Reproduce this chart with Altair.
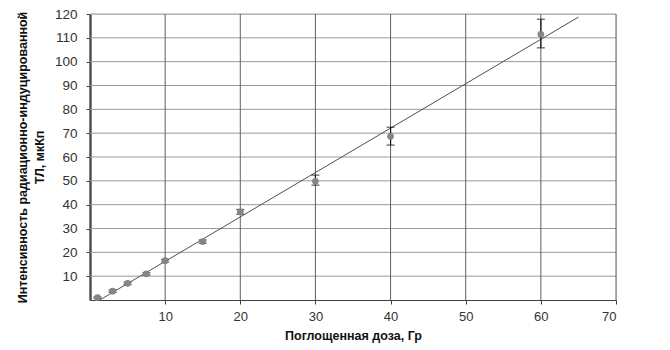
import altair as alt
import pandas as pd

dose = [1, 3, 5, 7.5, 10, 15, 20, 30, 40, 60]
intensity = [1.0, 3.7, 7.0, 11.0, 16.5, 24.5, 37.0, 49.8, 68.7, 111.5]
err_low = [0.7, 3.2, 6.5, 10.5, 16.0, 23.8, 36.0, 48.2, 65.0, 105.8]
err_high = [1.3, 4.2, 7.5, 11.5, 17.0, 25.2, 38.0, 52.4, 72.5, 117.8]

fit_x = [1.3, 65]
fit_y = [0.0, 118.7]

x_ticks = [10, 20, 30, 40, 50, 60, 70]
y_ticks = [10, 20, 30, 40, 50, 60, 70, 80, 90, 100, 110, 120]

df = pd.DataFrame({"dose": dose, "val": intensity, "lo": err_low, "hi": err_high})
fit = pd.DataFrame({"dose": fit_x, "val": fit_y})
ygrid = pd.DataFrame({"v": y_ticks})
xgrid = pd.DataFrame({"v": x_ticks})

FONT = "Liberation Sans"
xs = alt.Scale(domain=[0, 70], nice=False)
ys = alt.Scale(domain=[0, 120], nice=False)

axes = alt.Chart(df).mark_point(opacity=0).encode(
    x=alt.X("dose:Q", scale=xs,
            axis=alt.Axis(values=x_ticks, tickCount=20, title="Поглощенная доза, Гр", grid=False,
                          domainColor="#404040", tickColor="#404040", tickSize=4,
                          labelFont=FONT, labelFontSize=13, labelColor="#333",
                          labelOverlap=False,
                          labelPadding=6, titleFont=FONT, titleFontSize=12.5,
                          titleFontWeight="bold", titleColor="#111", titlePadding=6)),
    y=alt.Y("val:Q", scale=ys,
            axis=alt.Axis(values=y_ticks, tickCount=20,
                          title=["Интенсивность радиационно-индуцированной", "ТЛ, мкКп"],
                          grid=False, domainColor="#505050", domainWidth=2.5,
                          tickColor="#404040", tickSize=4, labelOverlap=False,
                          labelFont=FONT, labelFontSize=13.5, labelColor="#333",
                          labelPadding=9, titleFont=FONT,
                          titleFontSize=12.5, titleFontWeight="bold", titleColor="#111",
                          titleLineHeight=17, titlePadding=8)),
)

hgrid = alt.Chart(ygrid).mark_rule(color="#9a9a9a", strokeWidth=1).encode(
    y=alt.Y("v:Q", scale=ys))
vgrid = alt.Chart(xgrid).mark_rule(color="#606060", strokeWidth=1).encode(
    x=alt.X("v:Q", scale=xs))

line = alt.Chart(fit).mark_line(color="#505050", strokeWidth=1).encode(
    x=alt.X("dose:Q", scale=xs), y=alt.Y("val:Q", scale=ys))

bars = alt.Chart(df).mark_rule(color="#111", strokeWidth=1.2).encode(
    x=alt.X("dose:Q", scale=xs), y=alt.Y("lo:Q", scale=ys), y2="hi:Q")
cap_lo = alt.Chart(df).mark_tick(color="#111", thickness=1.2, size=8, orient="horizontal").encode(
    x=alt.X("dose:Q", scale=xs), y=alt.Y("lo:Q", scale=ys))
cap_hi = alt.Chart(df).mark_tick(color="#111", thickness=1.2, size=8, orient="horizontal").encode(
    x=alt.X("dose:Q", scale=xs), y=alt.Y("hi:Q", scale=ys))

pts = alt.Chart(df).mark_circle(color="#858585", size=45, opacity=1).encode(
    x=alt.X("dose:Q", scale=xs), y=alt.Y("val:Q", scale=ys))

chart = alt.layer(axes, hgrid, vgrid, line, bars, cap_lo, cap_hi, pts).properties(
    width=526, height=286,
    autosize=alt.AutoSizeParams(type="none"),
    padding={"left": 82, "top": 6, "right": 40, "bottom": 50},
).configure_view(stroke=None).configure_axis(
    labelOverlap=False, labelBound=False, labelFlush=False
).configure(background="white")

chart.save("out.html", embed_options={"renderer": "svg", "actions": False})
